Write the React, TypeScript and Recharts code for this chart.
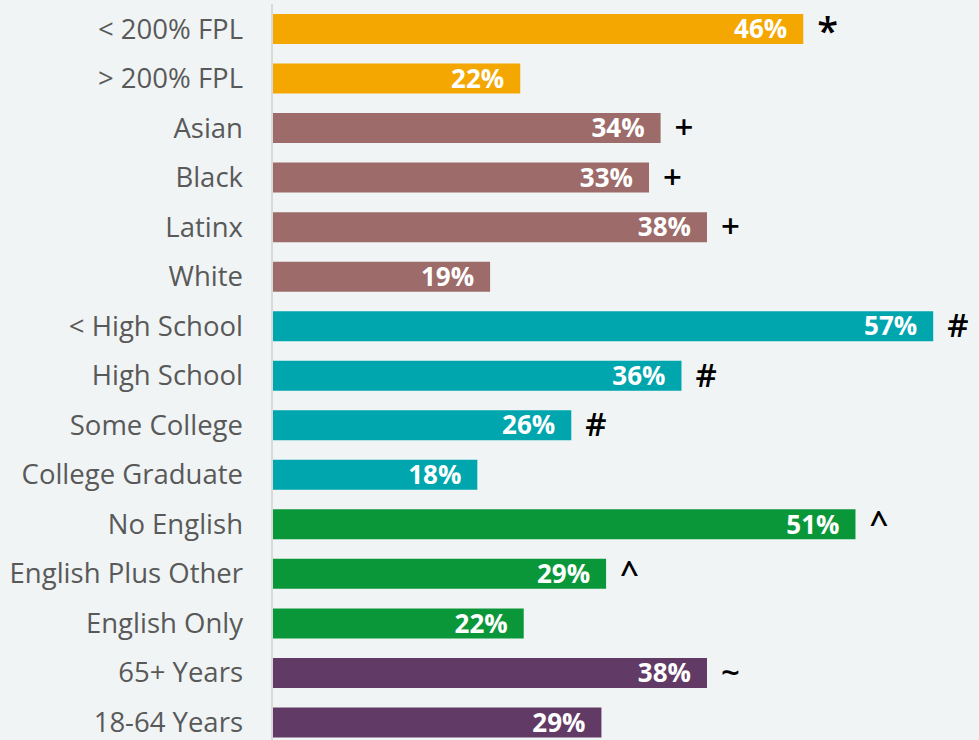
import React from 'react';
import { BarChart, Bar, XAxis, YAxis, Cell, LabelList } from 'recharts';

const categories = [
  '< 200% FPL', '> 200% FPL', 'Asian', 'Black', 'Latinx', 'White',
  '< High School', 'High School', 'Some College', 'College Graduate',
  'No English', 'English Plus Other', 'English Only', '65+ Years', '18-64 Years',
];
const values = [45.8, 21.4, 33.5, 32.5, 37.5, 18.8, 57.0, 35.3, 25.8, 17.7, 50.3, 28.8, 21.7, 37.5, 28.4];
const valueLabels = ['46%', '22%', '34%', '33%', '38%', '19%', '57%', '36%', '26%', '18%', '51%', '29%', '22%', '38%', '29%'];
const markers = ['*', '', '+', '+', '+', '', '#', '#', '#', '', '^', '^', '', '~', ''];
const groups = ['income', 'income', 'race', 'race', 'race', 'race', 'edu', 'edu', 'edu', 'edu', 'lang', 'lang', 'lang', 'age', 'age'];

const groupColors: Record<string, string> = {
  income: '#F4A700',
  race: '#9D6B69',
  edu: '#00A6AE',
  lang: '#0A9739',
  age: '#623A66',
};

const data = categories.map((c, i) => ({
  name: c,
  value: values[i],
  label: valueLabels[i],
  marker: markers[i],
  group: groups[i],
}));

const MarkerLabel = (props: any) => {
  const { x, y, width, height, value } = props;
  if (!value) return null;
  const isStar = value === '*';
  return (
    <text
      x={x + width + 14}
      y={y + height / 2 + (isStar ? 16 : 11)}
      fill="#000000"
      fontSize={isStar ? 38 : 33}
      fontWeight={600}
      fontFamily="Open Sans"
      textAnchor="start"
    >
      {value}
    </text>
  );
};

export default function App() {
  return (
    <div style={{ position: 'absolute', left: 0, top: 0, width: 979, height: 740, background: '#F0F4F5', overflow: 'hidden' }}>
      <BarChart
        width={979}
        height={749}
        data={data}
        layout="vertical"
        margin={{ top: 4, right: 11, bottom: 2, left: 0 }}
        barSize={30}
      >
        <XAxis type="number" domain={[0, 60]} hide />
        <YAxis
          type="category"
          dataKey="name"
          width={272}
          tickLine={false}
          tickSize={0}
          tickMargin={29}
          axisLine={{ stroke: '#D9D9D9', strokeWidth: 2 }}
          tick={{ fill: '#595959', fontSize: 27.5, fontFamily: 'Open Sans' }}
          interval={0}
        />
        <Bar dataKey="value" isAnimationActive={false}>
          {data.map((d, i) => (
            <Cell key={i} fill={groupColors[d.group]} />
          ))}
          <LabelList
            dataKey="label"
            position="insideRight"
            offset={16}
            fill="#FFFFFF"
            style={{ fontSize: 26, fontWeight: 700, fontFamily: 'Open Sans' }}
          />
          <LabelList dataKey="marker" content={MarkerLabel} />
        </Bar>
      </BarChart>
    </div>
  );
}
